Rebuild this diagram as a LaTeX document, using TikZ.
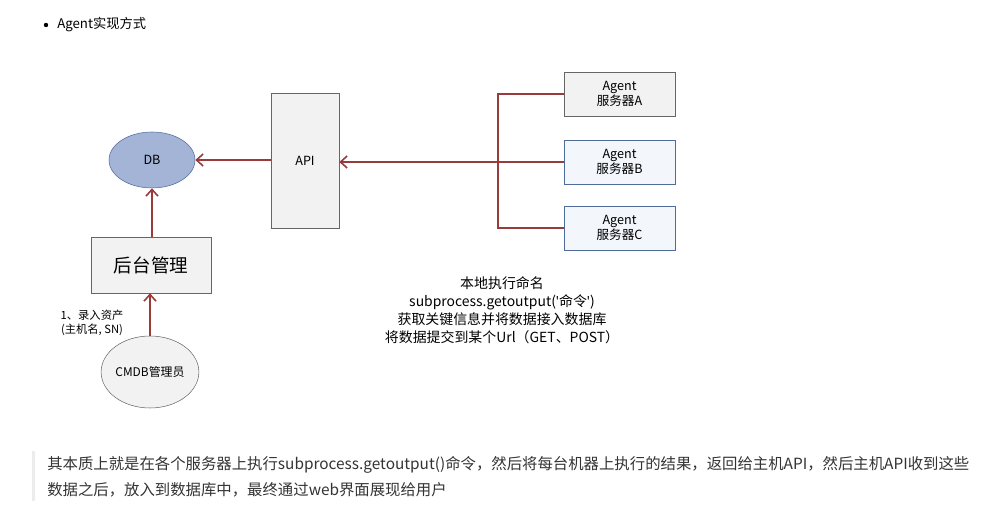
\documentclass[tikz,border=0pt]{standalone}
\usepackage{fontspec}
\setmainfont{Noto Sans CJK SC}
\newfontfamily\latinfont{Noto Sans}
\usetikzlibrary{arrows.meta,shapes.geometric}
\definecolor{link}{HTML}{9A3B3B}
\definecolor{boxgray}{HTML}{F2F2F2}
\definecolor{boxblue}{HTML}{F3F6FB}
\definecolor{edgeblue}{HTML}{4F6B99}
\definecolor{dbfill}{HTML}{A3B4D6}
\newcommand{\squote}{{\latinfont\char"0027}}
\tikzset{
  flow/.style={draw=link,line width=1.2pt,-{Straight Barb[length=5pt,width=9pt]}},
  wire/.style={draw=link,line width=1.2pt},
  graybox/.style={draw=gray!80!black,fill=boxgray,inner sep=0pt},
  bluebox/.style={draw=edgeblue,fill=boxblue,inner sep=0pt},
  txt/.style={font=\fontsize{9.5}{11.5}\selectfont,align=center,inner sep=0pt}
}
\begin{document}
\begin{tikzpicture}[x=0.0265cm,y=-0.0265cm]
\useasboundingbox (0,0) rectangle (1007,509);
\fill (46,25) circle (2.2);
\node[txt,anchor=west,font=\fontsize{10}{12}\selectfont] (title) at (57,25) {Agent实现方式};

\node[ellipse,draw=edgeblue,fill=dbfill,minimum width=86*0.0265cm,minimum height=56*0.0265cm,txt] (db) at (152,160) {DB};
\node[graybox,minimum width=68*0.0265cm,minimum height=135*0.0265cm,txt] (api) at (305,160.5) {API};
\node[graybox,minimum width=120*0.0265cm,minimum height=56*0.0265cm,font=\fontsize{14}{16}\selectfont] (mgr) at (151,265) {后台管理};
\node[ellipse,draw=gray!80!black,fill=boxgray,minimum width=92*0.0265cm,minimum height=72*0.0265cm,txt,font=\fontsize{9}{10}\selectfont] (admin) at (150,372) {CMDB管理员};

\node[graybox,minimum width=111*0.0265cm,minimum height=44*0.0265cm,txt] (agentA) at (619.5,94) {Agent\\服务器A};
\node[bluebox,minimum width=111*0.0265cm,minimum height=44*0.0265cm,txt] (agentB) at (619.5,162) {Agent\\服务器B};
\node[bluebox,minimum width=111*0.0265cm,minimum height=44*0.0265cm,txt] (agentC) at (619.5,228) {Agent\\服务器C};

\coordinate (tA) at (498,94);
\coordinate (tB) at (498,162);
\coordinate (tC) at (498,228);
\draw[wire] (agentA.west) -- (tA) -- (tC) -- (agentC.west);
\draw[wire] (agentB.west) -- (tB);
\draw[flow] (tB) -- (api.east |- tB);
\draw[flow] (api.west |- db.east) -- (db.east);
\draw[flow] (mgr.north -| db.south) -- (db.south);
\draw[flow] (admin.north) -- (admin.north |- mgr.south);

\node[txt,font=\fontsize{8.5}{11}\selectfont] (entry) at (92,323) {1、录入资产\\(主机名, SN)};
\node[txt,font=\fontsize{10.5}{13.5}\selectfont] (note) at (502,310) {本地执行命名\\subprocess.getoutput(\squote 命令\squote)\\获取关键信息并将数据接入数据库\\将数据提交到某个Url（GET、POST）};

\fill[gray!15] (32,451) rectangle (35,501);
\node[anchor=west,inner sep=0pt,font=\fontsize{11.6}{13}\selectfont,text=black!80] (sum1) at (47,465) {其本质上就是在各个服务器上执行subprocess.getoutput()命令，然后将每台机器上执行的结果，返回给主机API，然后主机API收到这些};
\node[anchor=west,inner sep=0pt,font=\fontsize{11.6}{13}\selectfont,text=black!80] (sum2) at (47,490) {数据之后，放入到数据库中，最终通过web界面展现给用户};
\end{tikzpicture}
\end{document}
